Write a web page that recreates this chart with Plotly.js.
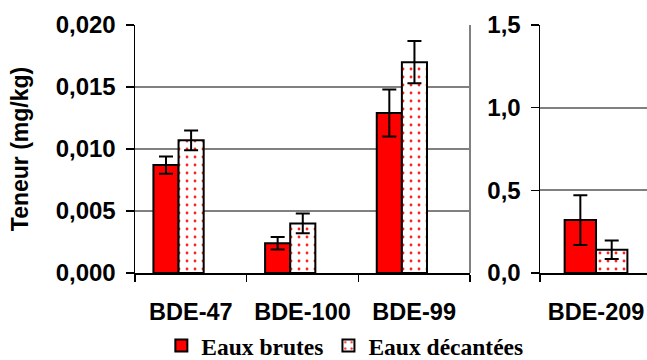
<!DOCTYPE html>
<html>
<head>
<meta charset="utf-8">
<script src="https://cdn.plot.ly/plotly-3.0.1.min.js"></script>
<style>html,body{margin:0;padding:0;background:#fff;}#chart{width:647px;height:360px;}</style>
</head>
<body>
<div id="chart"></div>
<script>
// Data
const catsLeft = ['BDE-47', 'BDE-100', 'BDE-99'];
const brutesLeft = [0.0087, 0.0024, 0.0129];
const brutesLeftErr = [0.0007, 0.0005, 0.0019];
const decantLeft = [0.0107, 0.0040, 0.0170];
const decantLeftErr = [0.0008, 0.0008, 0.0017];

const catsRight = ['BDE-209'];
const brutesRight = [0.32];
const brutesRightErr = [0.15];
const decantRight = [0.14];
const decantRightErr = [0.056];

const seriesNames = ['Eaux brutes', 'Eaux décantées'];

const sans = 'Arial, "Liberation Sans", sans-serif';
const serif = '"Times New Roman", "Liberation Serif", serif';

function errStyle(arr) {
  return {type: 'data', array: arr, visible: true, color: '#000', thickness: 2, width: 7};
}
const redMarker = {color: '#ff0000', line: {color: '#000', width: 2}};
const dotMarker = {color: '#ffffff', line: {color: '#000', width: 2},
  pattern: {shape: '.', fgcolor: '#ff2020', bgcolor: '#ffffff', size: 8, solidity: 0.1, fillmode: 'replace'}};

const wL = 0.225, wR = 0.28;
const traces = [
  {type: 'bar', name: seriesNames[0], x: catsLeft, y: brutesLeft, error_y: errStyle(brutesLeftErr),
   marker: redMarker, width: catsLeft.map(() => wL), offset: catsLeft.map(() => -0.335), xaxis: 'x', yaxis: 'y', legendgroup: 'a'},
  {type: 'bar', name: seriesNames[1], x: catsLeft, y: decantLeft, error_y: errStyle(decantLeftErr),
   marker: dotMarker, width: catsLeft.map(() => wL), offset: catsLeft.map(() => -0.11), xaxis: 'x', yaxis: 'y', legendgroup: 'b'},
  {type: 'bar', name: seriesNames[0], x: catsRight, y: brutesRight, error_y: errStyle(brutesRightErr),
   marker: redMarker, width: catsRight.map(() => wR), offset: catsRight.map(() => -wR), xaxis: 'x2', yaxis: 'y2', legendgroup: 'a', showlegend: false},
  {type: 'bar', name: seriesNames[1], x: catsRight, y: decantRight, error_y: errStyle(decantRightErr),
   marker: dotMarker, width: catsRight.map(() => wR), offset: catsRight.map(() => 0), xaxis: 'x2', yaxis: 'y2', legendgroup: 'b', showlegend: false}
];

const yTickFont = {family: sans, size: 24, color: '#000', weight: 'bold'};
const xTickFont = {family: sans, size: 23.5, color: '#000', weight: 'bold'};
const xCommon = {type: 'category', ticks: 'outside', tickson: 'boundaries', ticklen: 7, tickwidth: 1.5, tickcolor: '#000',
  showline: true, linecolor: '#000', linewidth: 2, showgrid: false, tickfont: xTickFont, ticklabelstandoff: 17,
  automargin: false, fixedrange: true};
const yCommon = {showgrid: true, gridcolor: '#808080', gridwidth: 2, showline: true, linecolor: '#000', linewidth: 1.5,
  ticks: 'outside', ticklen: 8, tickwidth: 1.5, tickcolor: '#000', zeroline: false, tickfont: yTickFont,
  ticklabelstandoff: 5, automargin: false, fixedrange: true};

const layout = {
  width: 647, height: 360,
  margin: {l: 0, r: 0, t: 25, b: 87},
  paper_bgcolor: '#fff', plot_bgcolor: '#fff',
  separators: ',.',
  barmode: 'overlay',
  showlegend: true,
  legend: {orientation: 'h', x: 0.533, xanchor: 'center', xref: 'container', y: 0.04, yanchor: 'middle', yref: 'container',
    font: {family: serif, size: 23.5, color: '#000', weight: 'bold'}, traceorder: 'normal', itemwidth: 30},
  xaxis: Object.assign({}, xCommon, {domain: [135/647, 470/647], range: [-0.5, 2.5], anchor: 'y'}),
  yaxis: Object.assign({}, yCommon, {range: [0, 0.020], dtick: 0.005, tickformat: '.3f', anchor: 'x',
    title: {text: 'Teneur (mg/kg)', font: {family: sans, size: 23, color: '#000', weight: 'bold'}, standoff: 20}}),
  xaxis2: Object.assign({}, xCommon, {domain: [540/647, 1], range: [-0.5, 0.455], anchor: 'y2'}),
  yaxis2: Object.assign({}, yCommon, {range: [0, 1.5], dtick: 0.5, tickformat: '.1f', anchor: 'x2'}),
  shapes: [
    {type: 'line', xref: 'x domain', yref: 'y domain', x0: 1, x1: 1, y0: 0, y1: 1, line: {color: '#808080', width: 2}, layer: 'below'}
  ]
};

Plotly.newPlot('chart', traces, layout, {displayModeBar: false, staticPlot: true});
</script>
</body>
</html>
